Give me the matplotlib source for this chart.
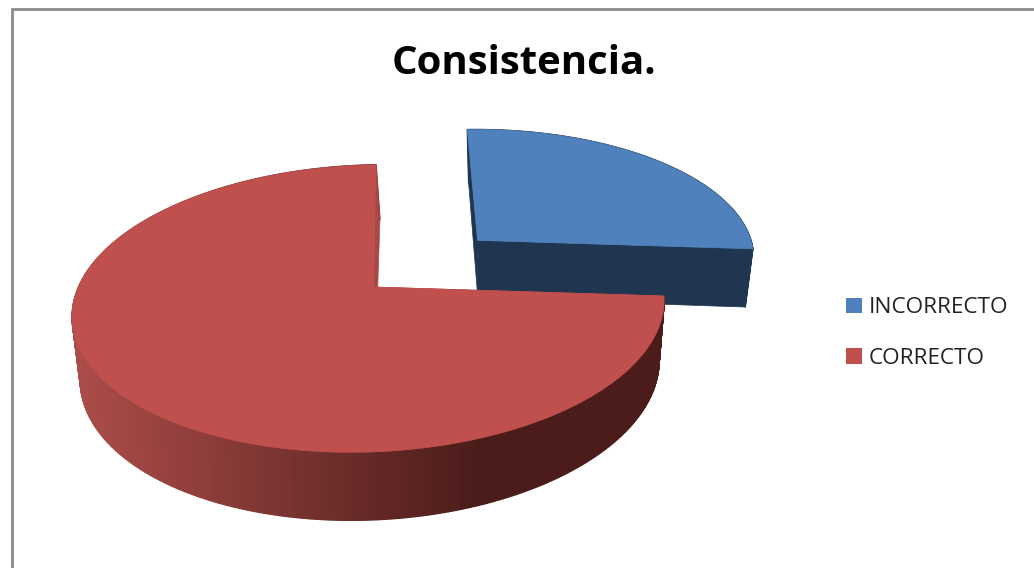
import numpy as np
import matplotlib
matplotlib.use("Agg")
import matplotlib.pyplot as plt
from matplotlib.collections import PolyCollection
from matplotlib.colors import LinearSegmentedColormap
from matplotlib.patches import Patch, Polygon

title = "Consistencia."
labels = ["INCORRECTO", "CORRECTO"]
values = [26.75, 73.25]
top_colors = ["#4f81bd", "#c0504d"]

W, H = 1034, 568
fig = plt.figure(figsize=(W / 100, H / 100), dpi=100)
ax = fig.add_axes([0, 0, 1, 1])
ax.set_xlim(0, W)
ax.set_ylim(H, 0)
ax.axis("off")

UNIT = [(1, 0), (0, 1), (0, -1), (-1, 0)]
TOP = [(664, 296), (404, 165), (332, 452), (83, 278)]
BOT = [(659, 356), (407, 220), (333, 520), (92, 337)]


def homography(src, dst):
    A, b = [], []
    for (u, v), (x, y) in zip(src, dst):
        A.append([u, v, 1, 0, 0, 0, -u * x, -v * x])
        A.append([0, 0, 0, u, v, 1, -u * y, -v * y])
        b += [x, y]
    h = np.linalg.solve(np.array(A, float), np.array(b, float))
    return np.append(h, 1).reshape(3, 3)


HT, HB = homography(UNIT, TOP), homography(UNIT, BOT)


def project(M, pts):
    p = np.c_[pts, np.ones(len(pts))] @ M.T
    return p[:, :2] / p[:, 2:]


shade = LinearSegmentedColormap.from_list("side", ["#ab4c49", "#4b1c1a"])


def side_colors(quads):
    xm = np.array([q[:, 0].mean() for q in quads])
    return shade(np.clip((xm - 80) / 400, 0, 1))


def draw_slice(a0, frac, face, dark, explode):
    a1 = a0 - frac * 2 * np.pi
    mid = (a0 + a1) / 2
    off = explode * np.array([np.cos(mid), np.sin(mid)])
    th = np.linspace(a0, a1, max(int(frac * 720), 2))
    arc = np.c_[np.cos(th), np.sin(th)] + off
    ring = np.vstack([off, arc])
    t, b = project(HT, ring), project(HB, ring)
    quads = [np.array([t[i], t[i + 1], b[i + 1], b[i]])
             for i in range(1, len(t) - 1)]
    if face == top_colors[1]:
        cols = side_colors(quads)
    else:
        cols = [dark] * len(quads)
    ax.add_patch(Polygon(np.vstack([t[[0, 1]], b[[1, 0]]]),
                         fc=dark, ec=dark, lw=0.5))
    ax.add_collection(PolyCollection(quads, facecolors=cols,
                                     edgecolors=cols, linewidths=1.0))
    ax.add_patch(Polygon(np.vstack([t[[0, -1]], b[[-1, 0]]]),
                         fc=dark, ec=dark, lw=0.5))
    ax.add_patch(Polygon(t, fc=face, ec=face, lw=0.5))


total = sum(values)
start = values[0] / total * 2 * np.pi
draw_slice(start, values[0] / total, top_colors[0], "#1f3550", 0.50)
draw_slice(0.0, values[1] / total, top_colors[1], "#a84845", 0.0)

ax.plot([11.5, 11.5, W], [H, 8.5, 8.5], color="#8c8c8c", lw=2,
        solid_joinstyle="miter")

ax.text(524, 64, title, ha="center", va="center", fontsize=28.9,
        fontweight="bold", family="Open Sans", color="black")

ax.legend(handles=[Patch(fc=c, ec="none", label=l)
                   for c, l in zip(top_colors, labels)],
          loc="upper left", bbox_to_anchor=(826 / W, 1 - 277 / H),
          frameon=False, prop={"family": "Open Sans", "size": 16.2},
          labelspacing=1.3, handlelength=0.7, handleheight=0.7,
          handletextpad=0.28, labelcolor="#222222")

fig.savefig("out.png", dpi=100)
